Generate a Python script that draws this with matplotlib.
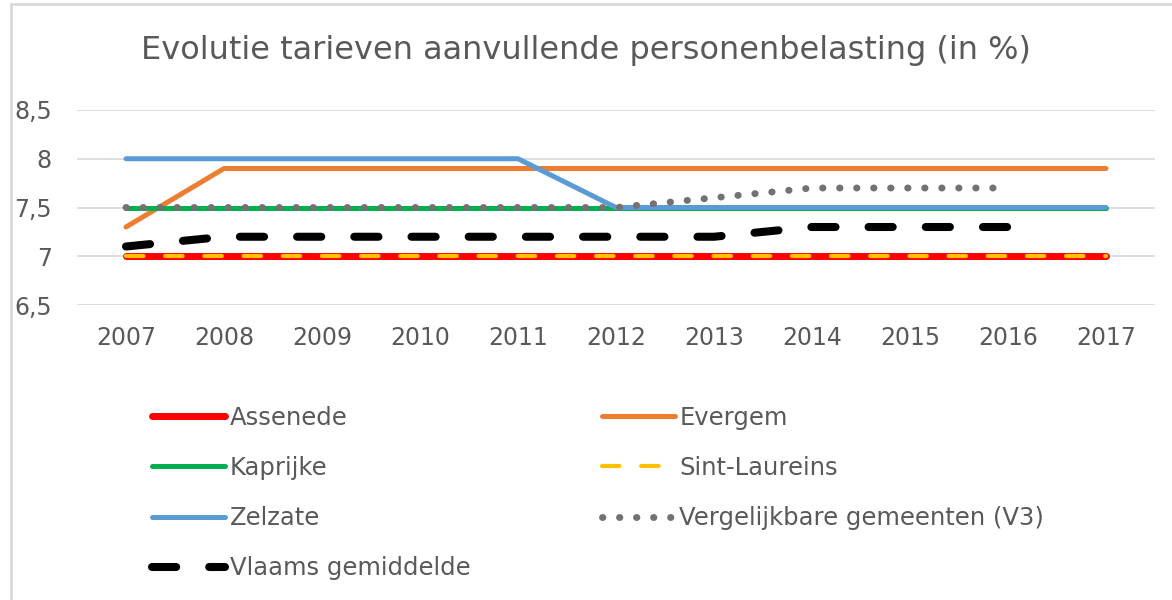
import matplotlib
matplotlib.use("Agg")
import matplotlib.pyplot as plt
from matplotlib.lines import Line2D
from matplotlib.ticker import FixedLocator, FixedFormatter

plt.rcParams["font.family"] = ["DejaVu Sans"]

# data
years = [2007, 2008, 2009, 2010, 2011, 2012, 2013, 2014, 2015, 2016, 2017]
assenede = [7.0, 7.0, 7.0, 7.0, 7.0, 7.0, 7.0, 7.0, 7.0, 7.0, 7.0]
evergem = [7.3, 7.9, 7.9, 7.9, 7.9, 7.9, 7.9, 7.9, 7.9, 7.9, 7.9]
kaprijke = [7.5, 7.5, 7.5, 7.5, 7.5, 7.5, 7.5, 7.5, 7.5, 7.5, 7.5]
sint_laureins = [7.0, 7.0, 7.0, 7.0, 7.0, 7.0, 7.0, 7.0, 7.0, 7.0, 7.0]
zelzate = [8.0, 8.0, 8.0, 8.0, 8.0, 7.5, 7.5, 7.5, 7.5, 7.5, 7.5]
v3_years = [2007, 2008, 2009, 2010, 2011, 2012, 2013, 2014, 2015, 2016]
v3 = [7.5, 7.5, 7.5, 7.5, 7.5, 7.5, 7.6, 7.7, 7.7, 7.7]
vl_years = [2007, 2008, 2009, 2010, 2011, 2012, 2013, 2014, 2015, 2016]
vlaams = [7.1, 7.2, 7.2, 7.2, 7.2, 7.2, 7.2, 7.3, 7.3, 7.3]

y_ticks = [6.5, 7.0, 7.5, 8.0, 8.5]
y_tick_labels = ["6,5", "7", "7,5", "8", "8,5"]

text_col = "#595959"

fig = plt.figure(figsize=(11.72, 6.0), dpi=100)
ax = fig.add_axes([77 / 1172, 1 - 305 / 600, 1078 / 1172, 195 / 600])

# series in Excel order
l_ass, = ax.plot(years, assenede, color="#FF0000", lw=5, solid_capstyle="round",
                 label="Assenede")
l_eve, = ax.plot(years, evergem, color="#ED7D31", lw=3.6, solid_capstyle="round",
                 label="Evergem")
l_kap, = ax.plot(years, kaprijke, color="#00B050", lw=3.6, solid_capstyle="round",
                 label="Kaprijke")
l_sl, = ax.plot(years, sint_laureins, color="#FFC000", lw=3, dashes=(4.2, 5.2),
                dash_capstyle="round", label="Sint-Laureins")
l_zel, = ax.plot(years, zelzate, color="#5B9BD5", lw=3.6, solid_capstyle="round",
                 label="Zelzate")
l_v3, = ax.plot(v3_years, v3, color="#767171", lw=5, dashes=(0.05, 2.4),
                dash_capstyle="round", label="Vergelijkbare gemeenten (V3)")
l_vl, = ax.plot(vl_years, vlaams, color="black", lw=5.8, dashes=(3.0, 4.1),
                dash_capstyle="round", label="Vlaams gemiddelde")

ax.set_xlim(2006.5, 2017.5)
ax.set_ylim(6.5, 8.5)
ax.set_xticks(years)
ax.set_xticklabels([str(y) for y in years])
ax.yaxis.set_major_locator(FixedLocator(y_ticks))
ax.yaxis.set_major_formatter(FixedFormatter(y_tick_labels))
ax.grid(axis="y", color="#D9D9D9", lw=1.2)
ax.set_axisbelow(True)
for s in ax.spines.values():
    s.set_visible(False)
ax.tick_params(axis="both", length=0, labelsize=17, labelcolor=text_col)
ax.tick_params(axis="y", pad=18)
ax.tick_params(axis="x", pad=15)

fig.text(0.5, 1 - 50 / 600, "Evolutie tarieven aanvullende personenbelasting (in %)",
         ha="center", va="center", fontsize=23, color=text_col)

# legend: column-major order to get Excel's row layout
handles = [l_ass, l_kap, l_zel, l_vl, l_eve, l_sl, l_v3]
leg = fig.legend(handles=handles, labels=[h.get_label() for h in handles],
                 ncol=2, loc="upper left", bbox_to_anchor=(152 / 1172, 1 - 406 / 600),
                 frameon=False, fontsize=17.5, handlelength=3.0, handletextpad=0.2,
                 columnspacing=5.4, labelspacing=1.07, borderaxespad=0, borderpad=0)
for t in leg.get_texts():
    t.set_color(text_col)

# light border of the chart area (top and left edges only)
fig.add_artist(Line2D([11 / 1172, 1.0], [1 - 4 / 600, 1 - 4 / 600],
                      transform=fig.transFigure, color="#D9D9D9", lw=2))
fig.add_artist(Line2D([11 / 1172, 11 / 1172], [0.0, 1 - 4 / 600],
                      transform=fig.transFigure, color="#D9D9D9", lw=2))

fig.savefig("out.png", dpi=100)
